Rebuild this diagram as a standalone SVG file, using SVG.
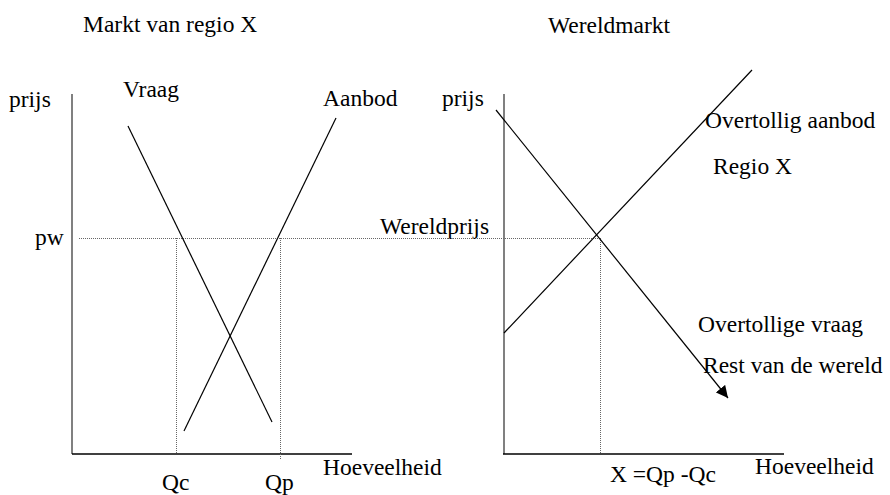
<svg xmlns="http://www.w3.org/2000/svg" width="890" height="495" viewBox="0 0 890 495">
<style>
text{font-family:'Liberation Serif','DejaVu Serif',serif;font-size:23.5px;fill:#000}
.ax{stroke:#808080;stroke-width:2;fill:none}
.xax{stroke:#000;stroke-width:1.5;fill:none}
.cv{stroke:#000;stroke-width:1.2;fill:none}
.dot{stroke:#666;stroke-width:1;stroke-dasharray:1 1;fill:none}
</style>
<defs>
<marker id="arr" viewBox="0 0 10 10" refX="10" refY="5" markerWidth="12" markerHeight="12" markerUnits="userSpaceOnUse" orient="auto">
<path d="M0,0 L10,5 L0,10 Z" fill="#000"/>
</marker>
</defs>
<g id="titles" font-family="Liberation Serif, serif">
<text x="83" y="32">Markt van regio X</text>
<text x="548" y="33">Wereldmarkt</text>
</g>
<g id="left-chart" font-family="Liberation Serif, serif">
<line class="ax" x1="72" y1="94" x2="72" y2="454"/>
<line class="xax" x1="72" y1="454" x2="352" y2="454"/>
<text x="9" y="107">prijs</text>
<text x="35" y="245">pw</text>
<text x="323" y="475">Hoeveelheid</text>
<text x="162" y="490">Qc</text>
<text x="265" y="490">Qp</text>
</g>
<g id="right-chart" font-family="Liberation Serif, serif">
<line class="ax" x1="504" y1="94" x2="504" y2="454"/>
<line class="xax" x1="503" y1="454" x2="784" y2="454"/>
<text x="442" y="106">prijs</text>
<text x="380" y="234">Wereldprijs</text>
<text x="755" y="474">Hoeveelheid</text>
<text x="610" y="482">X =Qp -Qc</text>
</g>
<g id="connectors">
<line class="dot" x1="79" y1="238.5" x2="600" y2="238.5"/>
<line class="dot" x1="176.5" y1="238" x2="176.5" y2="454"/>
<line class="dot" x1="280.5" y1="238" x2="280.5" y2="460"/>
<line class="dot" x1="600.5" y1="238" x2="600.5" y2="454"/>
<line class="cv" x1="128" y1="126" x2="272" y2="422"/>
<line class="cv" x1="336" y1="118" x2="184" y2="431"/>
<line class="cv" x1="504" y1="333" x2="752" y2="70"/>
<line class="cv" x1="496" y1="110" x2="728" y2="398" marker-end="url(#arr)"/>
</g>
<g id="labels" font-family="Liberation Serif, serif">
<text x="123" y="97">Vraag</text>
<text x="323" y="106">Aanbod</text>
<text x="705" y="128">Overtollig aanbod</text>
<text x="713" y="174">Regio X</text>
<text x="698" y="332">Overtollige vraag</text>
<text x="703" y="373">Rest van de wereld</text>
</g>
</svg>
